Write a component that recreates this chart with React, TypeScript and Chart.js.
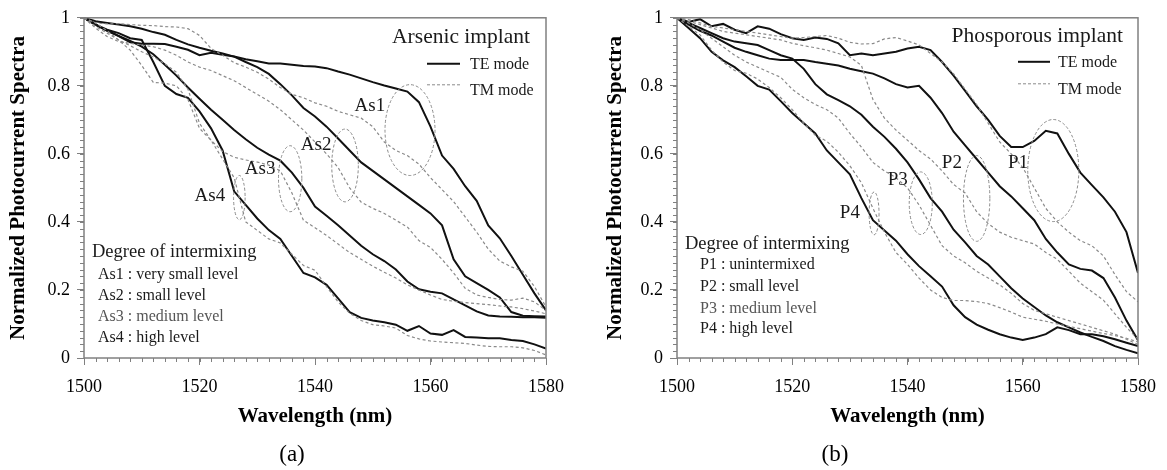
import React, { useEffect, useRef } from "react";
import { Chart, registerables } from "chart.js";

Chart.register(...registerables);

const FONT = "'Liberation Serif', 'Times New Roman', serif";

// ---------- shared axes ----------
const wavelengths = [
  1500, 1502, 1504, 1506, 1508, 1510, 1512, 1514, 1516, 1518, 1520, 1522, 1524, 1526,
  1528, 1530, 1532, 1534, 1536, 1538, 1540, 1542, 1544, 1546, 1548, 1550, 1552, 1554,
  1556, 1558, 1560, 1562, 1564, 1566, 1568, 1570, 1572, 1574, 1576, 1578, 1580,
];
const xTickValues = [1500, 1520, 1540, 1560, 1580];
const yTickValues = [0, 0.2, 0.4, 0.6, 0.8, 1];

// ---------- panel (a): Arsenic implant ----------
const as1TE = [1.0, 0.98, 0.963, 0.946, 0.928, 0.924, 0.924, 0.923, 0.915, 0.906,
  0.89, 0.897, 0.891, 0.886, 0.878, 0.872, 0.866, 0.866, 0.862, 0.858,
  0.857, 0.852, 0.842, 0.833, 0.822, 0.811, 0.801, 0.792, 0.783, 0.752,
  0.68, 0.595, 0.556, 0.505, 0.462, 0.39, 0.352, 0.3, 0.245, 0.19, 0.14];
const as2TE = [1.0, 0.99, 0.985, 0.98, 0.975, 0.968, 0.958, 0.95, 0.935, 0.922,
  0.912, 0.903, 0.895, 0.886, 0.87, 0.855, 0.835, 0.805, 0.772, 0.735,
  0.71, 0.68, 0.645, 0.61, 0.575, 0.55, 0.525, 0.5, 0.475, 0.45,
  0.425, 0.39, 0.29, 0.24, 0.22, 0.2, 0.178, 0.135, 0.124, 0.123, 0.122];
const as3TE = [1.0, 0.98, 0.962, 0.947, 0.932, 0.915, 0.893, 0.862, 0.83, 0.795,
  0.762, 0.73, 0.7, 0.67, 0.643, 0.618, 0.598, 0.58, 0.545, 0.5,
  0.445, 0.418, 0.39, 0.36, 0.33, 0.305, 0.285, 0.26, 0.225, 0.202,
  0.195, 0.19, 0.172, 0.155, 0.137, 0.125, 0.122, 0.121, 0.12, 0.12, 0.118];
const as4TE = [1.0, 0.98, 0.965, 0.955, 0.94, 0.935, 0.87, 0.8, 0.776, 0.765,
  0.725, 0.675, 0.61, 0.49, 0.45, 0.41, 0.376, 0.35, 0.3, 0.25,
  0.237, 0.215, 0.175, 0.135, 0.118, 0.11, 0.105, 0.098, 0.08, 0.094,
  0.072, 0.068, 0.082, 0.062, 0.06, 0.058, 0.058, 0.053, 0.05, 0.04, 0.028];
const as1TM = [1.0, 0.985, 0.982, 0.983, 0.98, 0.978, 0.977, 0.974, 0.973, 0.968,
  0.948, 0.91, 0.89, 0.868, 0.855, 0.84, 0.82, 0.795, 0.775, 0.765,
  0.75, 0.74, 0.725, 0.715, 0.705, 0.68, 0.635, 0.61, 0.595, 0.57,
  0.53, 0.495, 0.46, 0.415, 0.37, 0.32, 0.285, 0.268, 0.255, 0.21, 0.15];
const as2TM = [1.0, 0.97, 0.945, 0.93, 0.925, 0.92, 0.915, 0.905, 0.89, 0.87,
  0.855, 0.845, 0.83, 0.815, 0.795, 0.775, 0.755, 0.73, 0.7, 0.67,
  0.635, 0.6, 0.56, 0.5, 0.458, 0.44, 0.425, 0.405, 0.385, 0.345,
  0.325, 0.29, 0.25, 0.205, 0.185, 0.178, 0.172, 0.17, 0.176, 0.165, 0.14];
const as3TM = [1.0, 0.975, 0.955, 0.935, 0.918, 0.9, 0.885, 0.865, 0.84, 0.79,
  0.69, 0.64, 0.607, 0.59, 0.582, 0.576, 0.567, 0.55, 0.485, 0.405,
  0.383, 0.36, 0.335, 0.31, 0.29, 0.27, 0.252, 0.235, 0.215, 0.2,
  0.185, 0.172, 0.167, 0.163, 0.16, 0.157, 0.153, 0.15, 0.145, 0.138, 0.13];
const as4TM = [1.0, 0.985, 0.962, 0.934, 0.905, 0.86, 0.81, 0.808, 0.8, 0.76,
  0.675, 0.64, 0.585, 0.53, 0.4, 0.375, 0.35, 0.338, 0.305, 0.272,
  0.258, 0.21, 0.165, 0.132, 0.11, 0.098, 0.094, 0.088, 0.066, 0.056,
  0.05, 0.047, 0.045, 0.043, 0.038, 0.034, 0.033, 0.033, 0.03, 0.022, 0.009];

// ---------- panel (b): Phosporous implant ----------
const p1TE = [1.0, 0.988, 0.996, 0.975, 0.982, 0.965, 0.955, 0.975, 0.968, 0.952,
  0.94, 0.935, 0.942, 0.938, 0.925, 0.89, 0.895, 0.89, 0.895, 0.9,
  0.91, 0.915, 0.905, 0.87, 0.83, 0.785, 0.74, 0.7, 0.653, 0.62,
  0.62, 0.638, 0.668, 0.66, 0.6, 0.545, 0.508, 0.472, 0.43, 0.37, 0.25];
const p2TE = [1.0, 0.98, 0.962, 0.948, 0.93, 0.912, 0.9, 0.89, 0.88, 0.876,
  0.876, 0.876, 0.87, 0.865, 0.86, 0.85, 0.843, 0.836, 0.822, 0.805,
  0.795, 0.8, 0.765, 0.72, 0.665, 0.625, 0.585, 0.545, 0.505, 0.475,
  0.44, 0.405, 0.35, 0.31, 0.275, 0.262, 0.257, 0.235, 0.178, 0.11, 0.052];
const p3TE = [1.0, 0.985, 0.97, 0.955, 0.94, 0.93, 0.925, 0.92, 0.905, 0.89,
  0.88, 0.85, 0.805, 0.775, 0.758, 0.74, 0.715, 0.68, 0.65, 0.615,
  0.575, 0.525, 0.47, 0.43, 0.377, 0.34, 0.3, 0.275, 0.24, 0.205,
  0.175, 0.15, 0.125, 0.105, 0.09, 0.075, 0.062, 0.05, 0.035, 0.024, 0.014];
const p4TE = [1.0, 0.97, 0.94, 0.9, 0.875, 0.855, 0.828, 0.8, 0.789, 0.755,
  0.72, 0.69, 0.66, 0.61, 0.575, 0.54, 0.47, 0.405, 0.375, 0.345,
  0.305, 0.27, 0.24, 0.21, 0.155, 0.12, 0.098, 0.083, 0.07, 0.06,
  0.053, 0.06, 0.07, 0.09, 0.082, 0.07, 0.07, 0.064, 0.055, 0.045, 0.035];
const p1TM = [1.0, 0.995, 0.985, 0.975, 0.97, 0.965, 0.96, 0.955, 0.95, 0.945,
  0.94, 0.942, 0.945, 0.948, 0.94, 0.928, 0.923, 0.924, 0.938, 0.942,
  0.932, 0.92, 0.895, 0.87, 0.835, 0.79, 0.745, 0.69, 0.635, 0.6,
  0.56, 0.5, 0.44, 0.4, 0.37, 0.345, 0.33, 0.3, 0.245, 0.195, 0.165];
const p2TM = [1.0, 0.99, 0.98, 0.97, 0.96, 0.955, 0.95, 0.945, 0.94, 0.935,
  0.925, 0.918, 0.912, 0.905, 0.895, 0.885, 0.86, 0.76, 0.705, 0.67,
  0.64, 0.61, 0.585, 0.55, 0.51, 0.485, 0.43, 0.395, 0.37, 0.355,
  0.345, 0.335, 0.31, 0.29, 0.255, 0.22, 0.195, 0.17, 0.13, 0.09, 0.055];
const p3TM = [1.0, 0.985, 0.965, 0.94, 0.915, 0.89, 0.87, 0.855, 0.84, 0.825,
  0.79, 0.765, 0.745, 0.73, 0.705, 0.66, 0.62, 0.575, 0.55, 0.53,
  0.5, 0.45, 0.39, 0.33, 0.3, 0.28, 0.255, 0.235, 0.215, 0.19,
  0.16, 0.14, 0.13, 0.12, 0.11, 0.1, 0.09, 0.08, 0.07, 0.055, 0.04];
const p4TM = [1.0, 0.975, 0.95, 0.905, 0.87, 0.845, 0.837, 0.82, 0.795, 0.765,
  0.73, 0.69, 0.655, 0.637, 0.605, 0.565, 0.515, 0.44, 0.37, 0.31,
  0.275, 0.235, 0.2, 0.178, 0.169, 0.169, 0.166, 0.16, 0.148, 0.135,
  0.12, 0.114, 0.108, 0.1, 0.093, 0.086, 0.079, 0.072, 0.066, 0.058, 0.047];

// ---------- annotations (data coordinates) ----------
const labelsA = [
  { text: "As1", x: 1549.5, y: 0.741 },
  { text: "As2", x: 1540.2, y: 0.625 },
  { text: "As3", x: 1530.5, y: 0.555 },
  { text: "As4", x: 1521.8, y: 0.477 },
];
const ellipsesA = [
  { x: 1556.45, y: 0.67, rx: 4.33, ry: 0.1335 },
  { x: 1545.2, y: 0.566, rx: 2.3, ry: 0.107 },
  { x: 1535.7, y: 0.527, rx: 2.02, ry: 0.097 },
  { x: 1526.9, y: 0.4715, rx: 1.0, ry: 0.065 },
];
const labelsB = [
  { text: "P1", x: 1559.2, y: 0.573 },
  { text: "P2", x: 1547.7, y: 0.573 },
  { text: "P3", x: 1538.3, y: 0.523 },
  { text: "P4", x: 1530.0, y: 0.425 },
];
const ellipsesB = [
  { x: 1565.3, y: 0.551, rx: 4.43, ry: 0.15 },
  { x: 1552.0, y: 0.469, rx: 2.29, ry: 0.126 },
  { x: 1542.3, y: 0.455, rx: 2.0, ry: 0.092 },
  { x: 1534.2, y: 0.425, rx: 0.86, ry: 0.063 },
];
const intermixA = ["As1 : very small level", "As2 : small level", "As3 : medium level", "As4 : high level"];
const intermixB = ["P1 : unintermixed", "P2 : small level", "P3 : medium level", "P4 : high level"];

type Series = { label: string; mode: "TE" | "TM"; values: number[] };

const seriesA: Series[] = [
  { label: "As1 TM", mode: "TM", values: as1TM },
  { label: "As2 TM", mode: "TM", values: as2TM },
  { label: "As3 TM", mode: "TM", values: as3TM },
  { label: "As4 TM", mode: "TM", values: as4TM },
  { label: "As1 TE", mode: "TE", values: as1TE },
  { label: "As2 TE", mode: "TE", values: as2TE },
  { label: "As3 TE", mode: "TE", values: as3TE },
  { label: "As4 TE", mode: "TE", values: as4TE },
];
const seriesB: Series[] = [
  { label: "P1 TM", mode: "TM", values: p1TM },
  { label: "P2 TM", mode: "TM", values: p2TM },
  { label: "P3 TM", mode: "TM", values: p3TM },
  { label: "P4 TM", mode: "TM", values: p4TM },
  { label: "P1 TE", mode: "TE", values: p1TE },
  { label: "P2 TE", mode: "TE", values: p2TE },
  { label: "P3 TE", mode: "TE", values: p3TE },
  { label: "P4 TE", mode: "TE", values: p4TE },
];

type PanelSpec = {
  left: number;
  width: number;
  padRight: number;
  yAxisWidth: number;
  yTitlePad: number;
  series: Series[];
  title: string;
  labels: { text: string; x: number; y: number }[];
  ellipses: { x: number; y: number; rx: number; ry: number }[];
  intermix: string[];
  legend: { titleDx: number; titleDy: number; lineX0: number; lineX1: number; textDx: number; teDy: number; tmDy: number; textShift: number; tmTextShift: number };
  box: { titleDx: number; titleDy: number; lineDx: number; lineDys: number[] };
  caption: string;
  captionX: number;
};

const panelA: PanelSpec = {
  left: 0, width: 580, padRight: 34, yAxisWidth: 84, yTitlePad: 5.9,
  series: seriesA, title: "Arsenic implant", labels: labelsA, ellipses: ellipsesA, intermix: intermixA,
  legend: { titleDx: 16, titleDy: 20, lineX0: 119, lineX1: 86, textDx: 76, teDy: 46, tmDy: 67, textShift: 1, tmTextShift: 6 },
  box: { titleDx: 8, titleDy: 106, lineDx: 14, lineDys: [83, 62, 41, 20] },
  caption: "(a)", captionX: 292,
};
const panelB: PanelSpec = {
  left: 580, width: 587, padRight: 24, yAxisWidth: 97, yTitlePad: 22.9,
  series: seriesB, title: "Phosporous implant", labels: labelsB, ellipses: ellipsesB, intermix: intermixB,
  legend: { titleDx: 15, titleDy: 19, lineX0: 120, lineX1: 88, textDx: 80, teDy: 44, tmDy: 66, textShift: 1, tmTextShift: 6 },
  box: { titleDx: 8, titleDy: 114, lineDx: 23, lineDys: [93, 71, 49, 29] },
  caption: "(b)", captionX: 255,
};

const TE_COLOR = "#111111";
const TM_COLOR = "#8a8a8a";
const AXIS_COLOR = "#808080";

function makePlugin(spec: PanelSpec) {
  return {
    id: "panelDecor",
    afterDatasetsDraw(chart: any) {
      const { ctx, chartArea: ca, scales } = chart;
      const xs = scales.x;
      const ys = scales.y;
      ctx.save();
      // ellipses
      ctx.strokeStyle = TM_COLOR;
      ctx.lineWidth = 1;
      ctx.setLineDash([3, 2]);
      for (const e of spec.ellipses) {
        const cx = xs.getPixelForValue(e.x);
        const cy = ys.getPixelForValue(e.y);
        const rx = Math.abs(xs.getPixelForValue(e.x + e.rx) - cx);
        const ry = Math.abs(ys.getPixelForValue(e.y + e.ry) - cy);
        ctx.beginPath();
        ctx.ellipse(cx, cy, rx, ry, 0, 0, Math.PI * 2);
        ctx.stroke();
      }
      ctx.setLineDash([]);
      // curve labels
      ctx.fillStyle = "#1a1a1a";
      ctx.font = `19px ${FONT}`;
      ctx.textAlign = "center";
      ctx.textBaseline = "middle";
      for (const l of spec.labels) {
        ctx.fillText(l.text, xs.getPixelForValue(l.x), ys.getPixelForValue(l.y));
      }
      // legend
      const L = spec.legend;
      ctx.font = `21.5px ${FONT}`;
      ctx.textAlign = "right";
      ctx.fillText(spec.title, ca.right - L.titleDx, ca.top + L.titleDy);
      ctx.strokeStyle = TE_COLOR;
      ctx.lineWidth = 2;
      ctx.beginPath();
      ctx.moveTo(ca.right - L.lineX0, ca.top + L.teDy);
      ctx.lineTo(ca.right - L.lineX1, ca.top + L.teDy);
      ctx.stroke();
      ctx.strokeStyle = TM_COLOR;
      ctx.lineWidth = 1;
      ctx.setLineDash([3, 2]);
      ctx.beginPath();
      ctx.moveTo(ca.right - L.lineX0, ca.top + L.tmDy);
      ctx.lineTo(ca.right - L.lineX1, ca.top + L.tmDy);
      ctx.stroke();
      ctx.setLineDash([]);
      ctx.font = `16px ${FONT}`;
      ctx.textAlign = "left";
      ctx.fillText("TE mode", ca.right - L.textDx, ca.top + L.teDy + L.textShift);
      ctx.fillText("TM mode", ca.right - L.textDx, ca.top + L.tmDy + L.tmTextShift);
      // intermixing box
      const B = spec.box;
      ctx.font = `18.5px ${FONT}`;
      ctx.fillText("Degree of intermixing", ca.left + B.titleDx, ca.bottom - B.titleDy);
      ctx.font = `16px ${FONT}`;
      spec.intermix.forEach((t, i) => {
        ctx.fillStyle = i === 2 ? "#555555" : "#1a1a1a";
        ctx.fillText(t, ca.left + B.lineDx, ca.bottom - B.lineDys[i]);
      });
      ctx.restore();
    },
    afterDraw(chart: any) {
      const { ctx, chartArea: ca, scales } = chart;
      const xs = scales.x;
      const ys = scales.y;
      ctx.save();
      ctx.strokeStyle = AXIS_COLOR;
      ctx.lineWidth = 1;
      // minor ticks
      ctx.beginPath();
      for (let v = xs.min; v <= xs.max + 1e-9; v += 2) {
        const px = Math.round(xs.getPixelForValue(v)) + 0.5;
        ctx.moveTo(px, ca.bottom);
        ctx.lineTo(px, ca.bottom + 4);
      }
      for (let k = 0; k <= 50; k++) {
        const py = Math.round(ys.getPixelForValue(k / 50)) + 0.5;
        ctx.moveTo(ca.left, py);
        ctx.lineTo(ca.left - 4, py);
      }
      ctx.stroke();
      // frame
      ctx.lineWidth = 1.5;
      ctx.strokeRect(ca.left, ca.top, ca.right - ca.left, ca.bottom - ca.top);
      // caption
      ctx.fillStyle = "#000";
      ctx.font = `23px ${FONT}`;
      ctx.textAlign = "center";
      ctx.textBaseline = "middle";
      ctx.fillText(spec.caption, spec.captionX, 455);
      ctx.restore();
    },
  };
}

function buildConfig(spec: PanelSpec): any {
  const datasets = spec.series.map((s) => ({
    label: s.label,
    data: wavelengths.map((w, i) => ({ x: w, y: s.values[i] })),
    borderColor: s.mode === "TE" ? TE_COLOR : TM_COLOR,
    borderWidth: s.mode === "TE" ? 2 : 1.2,
    borderDash: s.mode === "TE" ? [] : [3, 2.5],
    pointRadius: 0,
    fill: false,
    tension: 0,
  }));
  return {
    type: "line",
    data: { datasets },
    options: {
      animation: false,
      responsive: false,
      maintainAspectRatio: false,
      layout: { padding: { left: 0, right: spec.padRight, top: 14, bottom: 40.4 } },
      plugins: { legend: { display: false }, tooltip: { enabled: false } },
      scales: {
        x: {
          type: "linear",
          min: 1500,
          max: 1580,
          afterBuildTicks: (s: any) => {
            s.ticks = xTickValues.map((v) => ({ value: v }));
          },
          afterFit: (s: any) => {
            s.height = 71.6;
          },
          ticks: {
            font: { family: FONT, size: 18 },
            color: "#000",
            padding: 11,
            maxRotation: 0,
            autoSkip: false,
            callback: (v: any) => String(v),
          },
          grid: { display: true, drawOnChartArea: false, drawTicks: true, tickLength: 7, color: AXIS_COLOR, lineWidth: 1 },
          border: { display: false },
          title: {
            display: true,
            text: "Wavelength (nm)",
            font: { family: FONT, size: 21, weight: "bold" },
            color: "#000",
            padding: { top: 0, bottom: 0 },
          },
        },
        y: {
          type: "linear",
          min: 0,
          max: 1,
          afterBuildTicks: (s: any) => {
            s.ticks = yTickValues.map((v) => ({ value: v }));
          },
          afterFit: (s: any) => {
            s.width = spec.yAxisWidth;
          },
          ticks: {
            font: { family: FONT, size: 18 },
            color: "#000",
            padding: 7,
            callback: (v: any) => String(Number(Number(v).toFixed(1))),
          },
          grid: { display: true, drawOnChartArea: false, drawTicks: true, tickLength: 7, color: AXIS_COLOR, lineWidth: 1 },
          border: { display: false },
          title: {
            display: true,
            text: "Normalized Photocurrent Spectra",
            font: { family: FONT, size: 21, weight: "bold" },
            color: "#000",
            padding: { top: spec.yTitlePad, bottom: 0 },
          },
        },
      },
    },
    plugins: [makePlugin(spec)],
  };
}

function Panel({ spec }: { spec: PanelSpec }) {
  const ref = useRef<HTMLCanvasElement>(null);
  useEffect(() => {
    if (!ref.current) return;
    const chart = new Chart(ref.current, buildConfig(spec));
    return () => chart.destroy();
  }, [spec]);
  return (
    <canvas
      ref={ref}
      width={spec.width}
      height={470}
      style={{ position: "absolute", left: spec.left, top: 0, width: spec.width, height: 470 }}
    />
  );
}

export default function App() {
  return (
    <div style={{ position: "absolute", left: 0, top: 0, width: 1167, height: 470, background: "#fff" }}>
      <Panel spec={panelA} />
      <Panel spec={panelB} />
    </div>
  );
}
